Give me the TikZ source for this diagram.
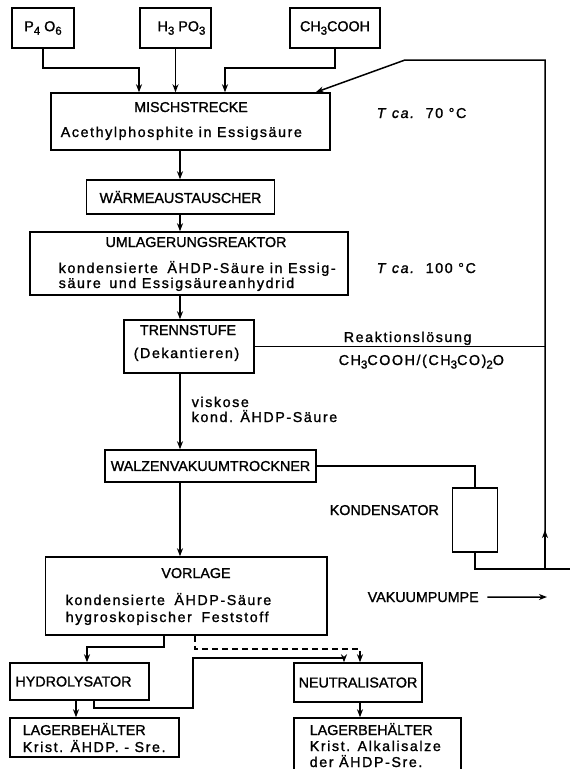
\documentclass[tikz,border=0pt]{standalone}
\usepackage{fontspec}
\setmainfont[FakeBold=1.3,AutoFakeBold=1.3]{Liberation Sans}
\usetikzlibrary{arrows.meta}
\newcommand\sbs[1]{\raisebox{-3.5pt}{\fontsize{11.5}{11.5}\selectfont #1}}
\newcommand\lsp{\addfontfeatures{LetterSpace=11}}
\begin{document}
\begin{tikzpicture}[x=1pt,y=-1pt, line width=1.5pt, font=\fontsize{14.3}{16}\selectfont\bfseries,
 box/.style={draw, rectangle, inner sep=0pt},
 txt/.style={inner sep=0pt, anchor=base west},
 ctxt/.style={inner sep=0pt, anchor=base},
 arr/.style={-{Stealth[length=8pt,width=6pt,inset=2.5pt]}}]
\useasboundingbox (0,0) rectangle (570,769);
\clip (0,0) rectangle (570,769);
% top feeds
\node[box, minimum width=62pt, minimum height=40pt] (p4o6) at (43,28) {P\sbs{4} O\sbs{6}};
\node[box, minimum width=71pt, minimum height=40pt] (h3po3) at (175.5,28) {\hspace*{12pt}H\sbs{3} PO\sbs{3}};
\node[box, minimum width=90pt, minimum height=40pt] (ch3cooh) at (335,28) {CH\sbs{3}COOH};
% mixing
\node[box, minimum width=279pt, minimum height=57pt] (misch) at (190.5,121.5) {};
\node[ctxt] (mischT) at (191,112) {MISCHSTRECKE};
\node[txt] (mischB) at (60,137) {\lsp Acethylphosphite in Essigsäure};
\node[txt] (t70) at (376,118) {\lsp\textit{T}\hspace{4pt}\textit{ca.}\hspace{10pt}70 °C};
\node[box, minimum width=188pt, minimum height=34pt] (waerme) at (180.5,197) {WÄRMEAUSTAUSCHER};
\node[box, minimum width=318pt, minimum height=63pt] (umlag) at (189,263.5) {};
\node[ctxt] (umlagT) at (196,247) {UMLAGERUNGSREAKTOR};
\node[txt] (umlag1) at (58,273) {\lsp kondensierte\hspace{4pt} ÄHDP-Säure in Essig-};
\node[txt] (umlag2) at (58,288) {\lsp säure\hspace{3pt} und Essigsäureanhydrid};
\node[txt] (t100) at (376,273) {\lsp\textit{T}\hspace{4pt}\textit{ca.}\hspace{10pt}100 °C};
\node[box, minimum width=130pt, minimum height=53pt] (trenn) at (189,346.5) {};
\node[ctxt] (trennT) at (188,335) {TRENNSTUFE};
\node[ctxt] (trennB) at (186.5,358) {\lsp(Dekantieren)};
\node[txt] (reak) at (343,342) {\lsp Reaktionslösung};
\node[txt] (form) at (338,365) {\lsp CH\sbs{3}COOH/(CH\sbs{3}CO)\sbs{2}O};
\node[txt] (visk1) at (191,407) {\lsp viskose};
\node[txt] (visk2) at (191,422) {\lsp kond. ÄHDP-Säure};
\node[box, minimum width=211pt, minimum height=32pt] (walzen) at (210.5,466) {WALZENVAKUUMTROCKNER};
\node[box, minimum width=45pt, minimum height=64pt] (kond) at (475,520) {};
\node[txt] (kondT) at (329,515) {KONDENSATOR};
\node[box, minimum width=281.5pt, minimum height=78pt] (vorlage) at (186,596) {};
\node[ctxt] (vorT) at (196,578) {VORLAGE};
\node[txt] (vor1) at (65,605) {\lsp kondensierte\hspace{4pt} ÄHDP-Säure};
\node[txt] (vor2) at (65,622) {\lsp hygroskopischer\hspace{4pt} Feststoff};
\node[txt] (vak) at (367,602) {VAKUUMPUMPE};
\node[box, minimum width=139pt, minimum height=37pt] (hydro) at (79.5,681.5) {HYDROLYSATOR\hspace*{12pt}};
\node[box, minimum width=128pt, minimum height=39pt] (neutral) at (358,682.5) {NEUTRALISATOR};
\node[box, minimum width=169pt, minimum height=39pt] (lagerL) at (94.5,737.5) {};
\node[txt] (lagL1) at (22,735) {LAGERBEHÄLTER};
\node[txt] (lagL2) at (22,752) {\lsp Krist. ÄHDP. - Sre.};
\node[box, minimum width=167pt, minimum height=54pt] (lagerR) at (377.5,745) {};
\node[txt] (lagR1) at (309,735) {LAGERBEHÄLTER};
\node[txt] (lagR2) at (309,751) {\lsp Krist. Alkalisalze};
\node[txt] (lagR3) at (309,767) {\lsp der ÄHDP-Sre.};
% junction coordinates
\coordinate (mx) at (180,0);
\coordinate (j1) at (139,68);
\coordinate (j2) at (225,68);
\coordinate (fbtop) at (545,60);
\coordinate (fbcorner) at (405,60);
\coordinate (fbbot) at (545,569);
\coordinate (fbmid) at (545,530);
\coordinate (pumpend) at (575,569);
\coordinate (vakend) at (547,597);
\coordinate (b1) at (87,647);
\coordinate (b2) at (360,649);
\coordinate (b3) at (94,708);
\coordinate (b4) at (193,708);
\coordinate (b5) at (193,658);
\coordinate (b6) at (344,658);
\coordinate (b7) at (76,0);
% feeds
\draw[arr] (p4o6.south) |- (j1) -- (j1 |- misch.north);
\draw[arr] (h3po3.south) -- (h3po3.south |- misch.north);
\draw[arr] (ch3cooh.south) |- (j2) -- (j2 |- misch.north);
% recycle
\draw[arr] (fbbot) -- (fbtop) -- (fbcorner) -- ([xshift=-15pt]misch.north east);
\draw[arr] (fbbot) -- (fbmid);
\draw (trenn.east) -- (trenn.east -| fbtop);
% main flow
\draw[arr] (misch.south -| mx) -- (waerme.north -| mx);
\draw[arr] (waerme.south -| mx) -- (umlag.north -| mx);
\draw[arr] (umlag.south -| mx) -- (trenn.north -| mx);
\draw[arr] (trenn.south -| mx) -- (walzen.north -| mx);
\draw[arr] (walzen.south -| mx) -- (vorlage.north -| mx);
% condenser
\draw (walzen.east) -| (kond.north);
\draw (kond.south) |- (pumpend);
\draw[arr, shorten <=8pt] (vak.east) -- (vakend);
% bottom
\draw[arr] ([xshift=-22pt]vorlage.south) |- (b1) -- (b1 |- hydro.north);
\draw[arr, dashed, dash pattern=on 6pt off 4pt] ([xshift=9pt]vorlage.south) |- (b2) -- (b2 |- neutral.north);
\draw[arr] (hydro.south -| b3) -- (b3) -- (b4) -- (b5) -- (b6) -- (b6 |- neutral.north);
\draw[arr] (hydro.south -| b7) -- (lagerL.north -| b7);
\draw[arr] (neutral.south -| b2) -- (lagerR.north -| b2);
\end{tikzpicture}
\end{document}
